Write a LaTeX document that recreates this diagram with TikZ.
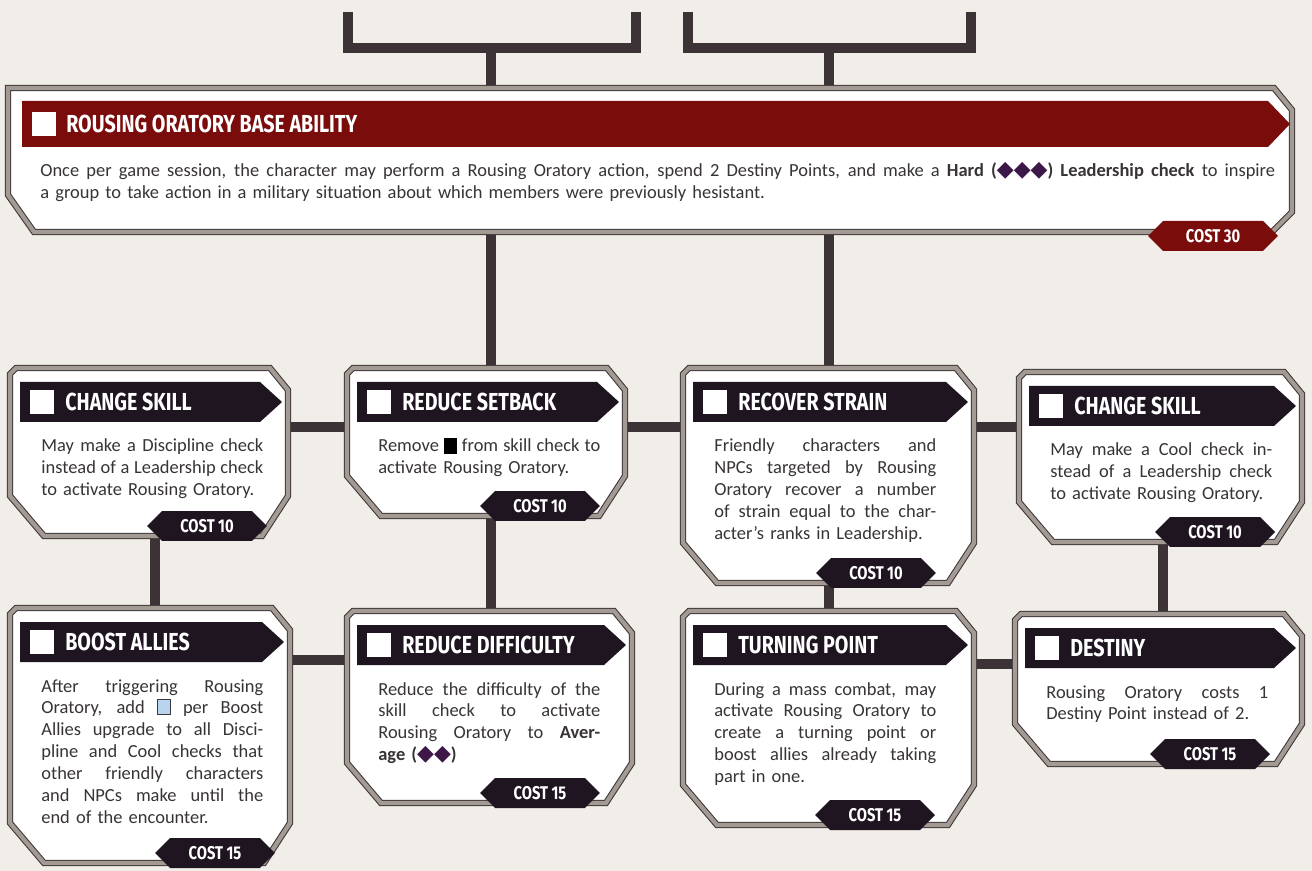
\documentclass[tikz,border=0pt]{standalone}
\usepackage{fontspec}
\usepackage{tikz}
\usetikzlibrary{backgrounds,fit,shapes.symbols}
\newfontfamily\bodyf{Carlito}
\newfontfamily\headf[FakeStretch=0.8]{Fira Sans}
\newfontfamily\symf{DejaVu Sans}
\definecolor{paper}{HTML}{F1EDE8}
\definecolor{linkcol}{HTML}{3B3335}
\definecolor{framedark}{HTML}{3E3638}
\definecolor{frameband}{HTML}{A39A93}
\definecolor{hdrdark}{HTML}{1E1521}
\definecolor{hdrred}{HTML}{7A0C0C}
\definecolor{textcol}{HTML}{383435}
\definecolor{diapurple}{HTML}{3C1747}
\definecolor{boostblue}{HTML}{B8D4EE}
\newcommand{\jl}[1]{{\spaceskip=0pt\xspaceskip=0pt\makebox[\hsize][s]{#1}}\\}
\newcommand{\dia}[1]{{\symf\fontsize{12.5}{12}\selectfont\color{diapurple}#1}}
\newcommand{\setback}{\textcolor{black}{\rule[-0.1em]{0.7em}{0.85em}}}
\newcommand{\boost}{{\fboxsep=0pt\fboxrule=0.5pt\fcolorbox{framedark}{boostblue}{\rule{0pt}{0.75em}\rule{0.65em}{0pt}}}}
% cornice, barra del titolo e nome
\newcommand{\card}[6]{%
	\draw[cardframe] (#2+6,#3) -- (#4-18,#3) -- (#4,#3+22) -- (#4,#5-40) -- (#4-26,#5) -- (#2+34,#5) -- (#2,#5-40) -- (#2,#3+6) -- cycle;
	\node[fit={(#2,#3) (#4,#5)}, inner sep=0pt] (#1) {};
	\fill[hdrdark] (#2+10,#3+14) -- (#4-28,#3+14) -- (#4-6,#3+34) -- (#4-28,#3+54) -- (#2+10,#3+54) -- cycle;
	\fill[white] (#2+20,#3+22) rectangle (#2+44,#3+46);
	\node[headtext] (#1-title) at (#2+55,#3+34) {#6};
}

\begin{document}
\begin{tikzpicture}[x=0.02cm, y=-0.02cm,
	link/.style={draw=linkcol, line width=5.5pt},
	cardframe/.style={fill=white, draw=framedark, line width=0.6pt, double=frameband, double distance=2.4pt},
	headtext/.style={anchor=west, inner sep=0pt, text=white, font=\headf\bfseries\fontsize{14}{14}\selectfont},
	bodytext/.style={anchor=base west, inner sep=0pt, text width=4.44cm, align=left, text=textcol, font=\bodyf\fontsize{10.5}{12.5}\selectfont},
	costtag/.style={signal, signal to=east and west, fill=hdrdark, text=white, minimum width=2.4cm, minimum height=0.6cm, inner sep=0pt, font=\headf\bfseries\fontsize{10.5}{10.5}\selectfont}]

		\useasboundingbox (0,0) rectangle (1312,871);
		\begin{scope}[on background layer]
			\fill[paper] (0,0) rectangle (1312,871);
		\end{scope}

		% abilita base
		\draw[cardframe] (8,88) -- (1274,88) -- (1292,110) -- (1292,212) -- (1272,232) -- (34,232) -- (8,195) -- cycle;
		\node[fit={(8,88) (1292,232)}, inner sep=0pt] (base) {};
		\fill[hdrred] (22,101) -- (1268,101) -- (1290,124) -- (1268,147) -- (22,147) -- cycle;
		\fill[white] (32,112) rectangle (56,136);
		\node[headtext] (base-title) at (66,124) {ROUSING ORATORY BASE ABILITY};
		\node[bodytext, text width=24.7cm, font=\bodyf\fontsize{10.5}{12}\selectfont] (base-text) at (40,177) {\jl{Once per game session, the character may perform a Rousing Oratory action, spend 2 Destiny Points, and make a \textbf{Hard (\dia{◆◆◆}) Leadership check} to inspire}a group to take action in a military situation about which members were previously hesistant.};
		\node[costtag, fill=hdrred, minimum width=2.6cm] (cost0) at (1213,236) {COST 30};

		% prima fila
		\card{chskl}{10}{368}{288}{536}{CHANGE SKILL}
		\node[bodytext] (chskl-text) at (41,452) {\jl{May make a Discipline check}\jl{instead of a Leadership check}to activate Rousing Oratory.};
		\node[costtag] (cost1) at (207,526) {COST 10};

		\card{redsb}{347}{368}{625}{516}{REDUCE SETBACK}
		\node[bodytext] (redsb-text) at (378,452) {\jl{Remove \setback{} from skill check to}activate Rousing Oratory.};
		\node[costtag] (cost2) at (540,506) {COST 10};

		\card{recst}{683}{368}{974}{583}{RECOVER STRAIN}
		\node[bodytext] (recst-text) at (714,452) {\jl{Friendly characters and}\jl{NPCs targeted by Rousing}\jl{Oratory recover a number}\jl{of strain equal to the char-}acter’s ranks in Leadership.};
		\node[costtag] (cost3) at (876,573) {COST 10};

		\card{chsk2}{1019}{372}{1302}{542}{CHANGE SKILL}
		\node[bodytext] (chsk2-text) at (1050,456) {\jl{May make a Cool check in-}\jl{stead of a Leadership check}to activate Rousing Oratory.};
		\node[costtag] (cost4) at (1215,532) {COST 10};

		% seconda fila
		\card{boost}{10}{608}{290}{863}{BOOST ALLIES}
		\node[bodytext] (boost-text) at (41,692) {\jl{After triggering Rousing}\jl{Oratory, add \boost{} per Boost}\jl{Allies upgrade to all Disci-}\jl{pline and Cool checks that}\jl{other friendly characters}\jl{and NPCs make until the}end of the encounter.};
		\node[costtag] (cost5) at (215,853) {COST 15};

		\card{reddf}{347}{611}{632}{803}{REDUCE DIFFICULTY}
		\node[bodytext] (reddf-text) at (378,695) {\jl{Reduce the difficulty of the}\jl{skill check to activate}\jl{Rousing Oratory to \textbf{Aver-}}\textbf{age (}\dia{◆◆}\textbf{)}};
		\node[costtag] (cost6) at (540,793) {COST 15};

		\card{turnp}{683}{611}{974}{825}{TURNING POINT}
		\node[bodytext] (turnp-text) at (714,695) {\jl{During a mass combat, may}\jl{activate Rousing Oratory to}\jl{create a turning point or}\jl{boost allies already taking}part in one.};
		\node[costtag] (cost7) at (875,815) {COST 15};

		\card{dest}{1015}{614}{1302}{764}{DESTINY}
		\node[bodytext] (dest-text) at (1046,698) {\jl{Rousing Oratory costs 1}Destiny Point instead of 2.};
		\node[costtag] (cost8) at (1210,754) {COST 15};

		% linee
		\coordinate (lane1) at (155,0);
		\coordinate (lane2) at (491,0);
		\coordinate (lane3) at (829,0);
		\coordinate (lane4) at (1163,0);
		\coordinate (row1) at (0,427);
		\coordinate (row2) at (0,660);
		\coordinate (row3) at (0,664);
		\coordinate (brLa) at (348,12);
		\coordinate (brLb) at (636,12);
		\coordinate (brRa) at (688,12);
		\coordinate (brRb) at (971,12);
		\coordinate (barL) at (491,48);
		\coordinate (barR) at (829,48);
		\begin{scope}[on background layer]
			\draw[link] (brLa) |- (barL) -| (brLb); % sopra
			\draw[link] (brRa) |- (barR) -| (brRb);
			\draw[link] (barL) -- (base.north -| barL);
			\draw[link] (barR) -- (base.north -| barR);
			\draw[link] (base.south -| lane2) -- (redsb.north -| lane2);
			\draw[link] (base.south -| lane3) -- (recst.north -| lane3);
			\draw[link] (chskl.east |- row1) -- (redsb.west |- row1);
			\draw[link] (redsb.east |- row1) -- (recst.west |- row1);
			\draw[link] (recst.east |- row1) -- (chsk2.west |- row1);
			\draw[link] (chskl.south -| lane1) -- (boost.north -| lane1); % verticali
			\draw[link] (redsb.south -| lane2) -- (reddf.north -| lane2);
			\draw[link] (recst.south -| lane3) -- (turnp.north -| lane3);
			\draw[link] (chsk2.south -| lane4) -- (dest.north -| lane4);
			\draw[link] (boost.east |- row2) -- (reddf.west |- row2);
			\draw[link] (turnp.east |- row3) -- (dest.west |- row3);
		\end{scope}

	\end{tikzpicture}
\end{document}
